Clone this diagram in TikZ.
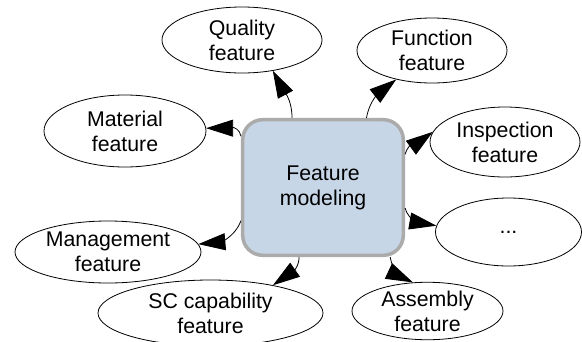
\documentclass[tikz,border=0pt]{standalone}
\usepackage{fontspec}
\setmainfont{Liberation Sans}
\usetikzlibrary{shapes.geometric,arrows.meta}
\definecolor{boxfill}{HTML}{C7D6E6}
\definecolor{boxline}{HTML}{ABABAB}
\begin{document}
\begin{tikzpicture}[x=1pt,y=1pt,
  txt/.style={align=center, font=\fontsize{21.3}{25}\selectfont},
  feat/.style={txt, draw=black, line width=0.8pt, ellipse, inner sep=0pt},
  arr/.style={line width=0.8pt, arrows={-Triangle[length=27pt,width=17pt]}}]
\useasboundingbox (0,0) rectangle (582,-341);

% central box
\node[txt, draw=boxline, fill=boxfill, line width=3.5pt, rounded corners=20pt,
      minimum width=160.6pt, minimum height=135.6pt] (fm) at (323,-187.5) {Feature\\modeling};

% feature ellipses
\node[feat, minimum width=160pt, minimum height=66pt] (q)   at (242,-40)    {Quality\\feature};
\node[feat, minimum width=150pt, minimum height=65pt] (fn)  at (432,-50.5)  {Function\\feature};
\node[feat, minimum width=150pt, minimum height=70pt] (ins) at (505,-142)   {Inspection\\feature};
\node[feat, minimum width=146pt, minimum height=68pt] (dots) at (508.5,-232) {...};
\node[feat, minimum width=151pt, minimum height=56pt] (asm) at (427.5,-311) {Assembly\\feature};
\node[feat, minimum width=225pt, minimum height=66pt] (sc)  at (210.5,-313) {SC capability\\feature};
\node[feat, minimum width=186pt, minimum height=62pt] (mg)  at (108,-252)   {Management\\feature};
\node[feat, minimum width=162pt, minimum height=72pt] (mt)  at (125,-131)   {Material\\feature};

% connectors
\draw[arr] (fm.114.7) to[out=90,in=-62]   (q.-45);
\draw[arr] (fm.58.3)  to[out=80,in=-142]  (fn.-141);
\draw[arr] (fm.22.5)  to[out=75,in=-144]  (ins.172);
\draw[arr] (fm.-14.2) to[out=-75,in=170]  (dots.175);
\draw[arr] (fm.-46.9) to[out=-80,in=155]  (asm.117);
\draw[arr] (fm.-109.7) to[out=-90,in=35]  (sc.24.7);
\draw[arr] (fm.-158)  to[out=-110,in=5]   (mg.5.5);
\draw[arr] (fm.148)   to[out=100,in=0]    (mt.2);
\end{tikzpicture}
\end{document}
